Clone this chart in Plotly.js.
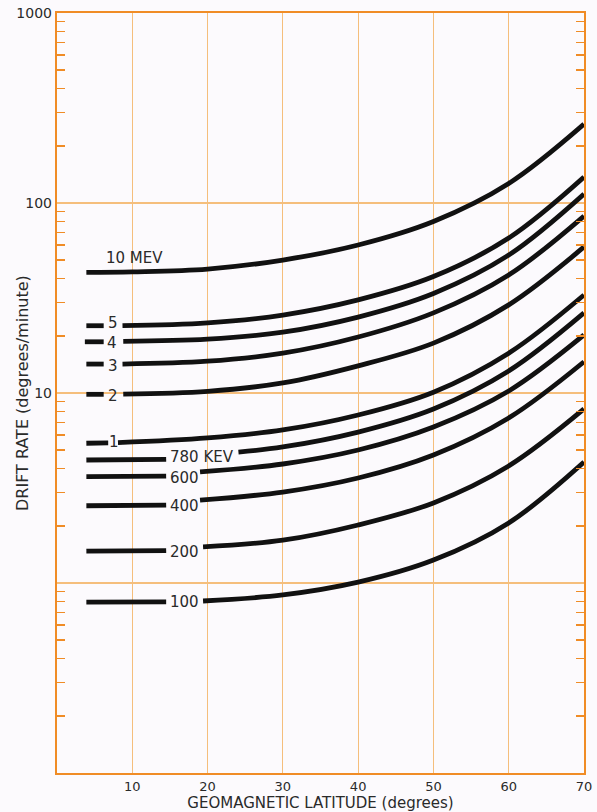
<!DOCTYPE html>
<html>
<head>
<meta charset="utf-8">
<script src="https://cdn.plot.ly/plotly-3.0.1.min.js"></script>
<style>html,body{margin:0;padding:0;background:#fcfafd;}</style>
</head>
<body>
<div id="chart" style="width:597px;height:812px;"></div>
<script>
// Geomagnetic latitude (degrees) and drift rate (degrees/minute) per energy curve.
// null marks the break in a curve where its label sits.
const curveNames = ["10 MEV", "5", "4", "3", "2", "1", "780 KEV", "600", "400", "200", "100"];

const lat_10MeV  = [3.9, 10, 20, 30, 40, 50, 60, 70];
const rate_10MeV = [43.1, 43.4, 44.9, 50.1, 60.1, 79.9, 126.6, 260];

const lat_5MeV  = [3.9, 6.2, null, 8.7, 20, 30, 40, 50, 60, 70];
const rate_5MeV = [22.6, 22.6, null, 22.6, 23.4, 25.7, 30.9, 41.0, 65.4, 137];

const lat_4MeV  = [3.7, 6.2, null, 8.8, 20, 30, 40, 50, 60, 70];
const rate_4MeV = [18.6, 18.6, null, 18.7, 19.2, 20.9, 25.1, 33.4, 53.2, 111.5];

const lat_3MeV  = [3.9, 6.2, null, 8.7, 20, 30, 40, 50, 60, 70];
const rate_3MeV = [14.2, 14.2, null, 14.2, 14.7, 16.2, 19.7, 26.4, 41.8, 85.4];

const lat_2MeV  = [3.9, 6.2, null, 8.8, 20, 30, 40, 50, 60, 70];
const rate_2MeV = [9.84, 9.84, null, 9.86, 10.2, 11.3, 13.9, 18.3, 29.1, 58.7];

const lat_1MeV  = [3.9, 6.8, null, 8.1, 20, 30, 40, 50, 60, 70];
const rate_1MeV = [5.44, 5.46, null, 5.48, 5.80, 6.39, 7.66, 10.1, 16.2, 32.8];

const lat_780keV  = [3.9, 14.5, null, 24.1, 30, 40, 50, 60, 70];
const rate_780keV = [4.44, 4.47, null, 4.89, 5.20, 6.23, 8.24, 13.06, 26.4];

const lat_600keV  = [3.9, 14.5, null, 19.0, 30, 40, 50, 60, 70];
const rate_600keV = [3.63, 3.65, null, 3.84, 4.23, 5.01, 6.62, 10.24, 20.2];

const lat_400keV  = [3.9, 14.5, null, 19.0, 30, 40, 50, 60, 70];
const rate_400keV = [2.55, 2.57, null, 2.73, 3.01, 3.57, 4.72, 7.39, 14.6];

const lat_200keV  = [3.9, 14.5, null, 19.4, 30, 40, 50, 60, 70];
const rate_200keV = [1.47, 1.48, null, 1.55, 1.68, 2.02, 2.64, 4.13, 8.24];

const lat_100keV  = [3.9, 14.5, null, 19.4, 30, 40, 50, 60, 70];
const rate_100keV = [0.794, 0.796, null, 0.804, 0.865, 1.01, 1.32, 2.07, 4.33];

// Label anchor points (latitude, drift rate) for each curve name
const labelLat  = [10.3, 7.4, 7.35, 7.4, 7.4, 7.6, 19.2, 16.9, 16.9, 17.0, 17.0];
const labelRate = [51.3, 23.3, 18.3, 13.9, 9.68, 5.54, 4.59, 3.58, 2.54, 1.46, 0.797];

const xTickVals = [10, 20, 30, 40, 50, 60, 70];
const xTickText = ["10", "20", "30", "40", "50", "60", "70"];
const yTickVals = [1, 10, 100, 1000];
const yTickText = ["", "10", "100", "1000"];

const lats  = [lat_10MeV, lat_5MeV, lat_4MeV, lat_3MeV, lat_2MeV, lat_1MeV, lat_780keV, lat_600keV, lat_400keV, lat_200keV, lat_100keV];
const rates = [rate_10MeV, rate_5MeV, rate_4MeV, rate_3MeV, rate_2MeV, rate_1MeV, rate_780keV, rate_600keV, rate_400keV, rate_200keV, rate_100keV];

const minorVals = [];
[0.1, 1, 10, 100].forEach(d => { for (let k = 2; k <= 9; k++) minorVals.push(+(k * d).toPrecision(3)); });

const AXIS = "#f08c26";
const GRID = "#f5be7c";
const INK = "#2a2a2a";
const FONT = "DejaVu Sans, sans-serif";

const traces = curveNames.map((name, i) => ({
  type: "scatter", mode: "lines", name: name,
  x: lats[i], y: rates[i],
  line: {color: "#111111", width: 4.8, shape: "spline", smoothing: 1.0},
  connectgaps: false, hoverinfo: "x+y+name"
}));
traces.push({type: "scatter", mode: "lines", x: [null], y: [null], yaxis: "y2", showlegend: false, hoverinfo: "skip"});

const annotations = curveNames.map((name, i) => ({
  text: name, x: labelLat[i], y: Math.log10(labelRate[i]), xref: "x", yref: "y",
  showarrow: false, xanchor: "center", yanchor: "middle",
  font: {family: FONT, size: 15, color: INK}
}));
annotations.push({
  text: "DRIFT RATE (degrees/minute)", textangle: -90, xref: "paper", yref: "paper",
  x: (22 - 57) / 527, y: 0.5, xanchor: "center", yanchor: "middle", showarrow: false,
  font: {family: FONT, size: 16, color: INK}
});

const layout = {
  width: 597, height: 812,
  margin: {l: 57, r: 13, t: 13, b: 39},
  paper_bgcolor: "#fcfafd", plot_bgcolor: "#fcfafd",
  showlegend: false,
  font: {family: FONT, color: INK},
  xaxis: {
    range: [0, 70], tickmode: "array", tickvals: xTickVals, ticktext: xTickText,
    showgrid: true, gridcolor: GRID, gridwidth: 1.2, zeroline: false,
    showline: true, linecolor: AXIS, linewidth: 2.2, mirror: true, ticks: "",
    tickfont: {family: FONT, size: 13, color: INK},
    title: {text: "GEOMAGNETIC LATITUDE (degrees)", font: {family: FONT, size: 15, color: INK}, standoff: 1}
  },
  yaxis: {
    type: "log", range: [-1, 3], tickmode: "array", tickvals: yTickVals, ticktext: yTickText,
    showgrid: true, gridcolor: GRID, gridwidth: 1.2, zeroline: false,
    showline: true, linecolor: AXIS, linewidth: 2.2, mirror: true, ticks: "",
    tickfont: {family: FONT, size: 14, color: INK},
    minor: {tickmode: "array", tickvals: minorVals, ticks: "inside", ticklen: 8, tickwidth: 1.5, tickcolor: AXIS, showgrid: false}
  },
  yaxis2: {
    type: "log", range: [-1, 3], overlaying: "y", side: "right", anchor: "x",
    tickmode: "array", tickvals: yTickVals, showticklabels: false, ticks: "",
    showgrid: false, zeroline: false, showline: false,
    minor: {tickmode: "array", tickvals: minorVals, ticks: "inside", ticklen: 8, tickwidth: 1.5, tickcolor: AXIS, showgrid: false}
  },
  annotations: annotations
};

Plotly.newPlot("chart", traces, layout, {displayModeBar: false, staticPlot: true});
</script>
</body>
</html>
